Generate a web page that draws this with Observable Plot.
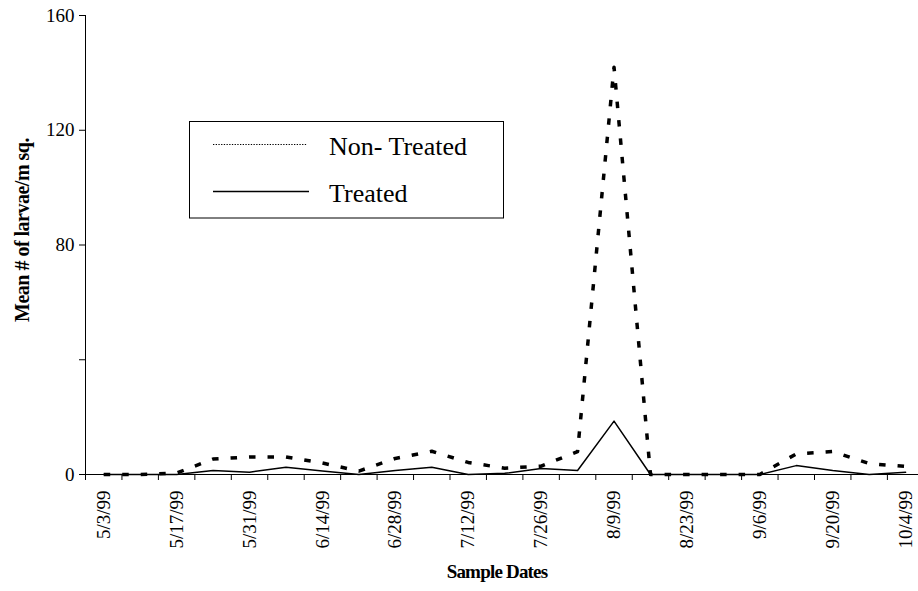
<!DOCTYPE html>
<html>
<head>
<meta charset="utf-8">
<script src="https://cdn.jsdelivr.net/npm/d3@7"></script>
<script src="https://cdn.jsdelivr.net/npm/@observablehq/plot@0.6"></script>
<style>
  html, body { margin: 0; padding: 0; background: #fff; }
  #chart svg { display: block; }
</style>
</head>
<body>
<div id="chart"></div>
<script>
// ---- data ----
const dates = ["5/3/99","5/10/99","5/17/99","5/24/99","5/31/99","6/7/99","6/14/99","6/21/99",
  "6/28/99","7/5/99","7/12/99","7/19/99","7/26/99","8/2/99","8/9/99","8/16/99","8/23/99",
  "8/30/99","9/6/99","9/13/99","9/20/99","9/27/99","10/4/99"];
const nonTreated = [0, 0, 0.5, 5.4, 6.1, 6.1, 4.0, 1.2, 5.6, 8.1, 4.2, 2.2, 2.9, 8, 142, 0, 0, 0, 0, 7.2, 8.0, 3.8, 2.8];
const treated    = [0, 0, 0, 1.4, 0.8, 2.5, 1.2, 0, 1.4, 2.5, 0, 0.4, 2.1, 1.4, 18.6, 0, 0, 0, 0, 3.1, 1.4, 0, 0.8];
const seriesNames = ["Non- Treated", "Treated"];
const yTicks = [0, 40, 80, 120, 160];
const yTickLabels = ["0", "", "80", "120", "160"];
const labelEvery = 2;
const yTitle = "Mean # of larvae/m sq.";
const xTitle = "Sample Dates";

// ---- table ----
const rows = dates.flatMap((d, i) => [
  {i, date: d, series: seriesNames[0], value: nonTreated[i]},
  {i, date: d, series: seriesNames[1], value: treated[i]}
]);
const n = dates.length;
const edgeTicks = d3.range(-0.5, n + 0.5, 1);
const labelIdx = d3.range(0, n, labelEvery);

const font = "Liberation Serif, Times New Roman, serif";

const chart = Plot.plot({
  width: 918,
  height: 591,
  marginLeft: 85,
  marginTop: 15,
  marginBottom: 117,
  marginRight: 0,
  style: {fontFamily: font, fontSize: "19px", color: "#000", background: "#fff", overflow: "hidden"},
  x: {type: "linear", domain: [-0.5, n - 0.5], range: [85, 85 + n * 36.45]},
  y: {domain: [0, 160], range: [474, 15]},
  marks: [
    Plot.ruleY([0], {stroke: "#000", strokeWidth: 1}),
    Plot.ruleX([-0.5], {y1: 0, y2: 160, stroke: "#000", strokeWidth: 1}),
    Plot.axisY({ticks: yTicks, tickFormat: v => yTickLabels[yTicks.indexOf(v)], tickSize: 6, tickPadding: 5, label: null, fontSize: 19}),
    Plot.axisX({ticks: edgeTicks, tickFormat: () => "", tickSize: 6, label: null}),
    Plot.axisX({ticks: labelIdx, tickFormat: i => dates[i], tickSize: 0, tickPadding: 16, tickRotate: -90, label: null, fontSize: 19}),
    Plot.line(rows, {filter: d => d.series === seriesNames[1], x: "i", y: "value", stroke: "#000", strokeWidth: 1.5}),
    Plot.line(rows, {filter: d => d.series === seriesNames[0], x: "i", y: "value", stroke: "#000", strokeWidth: 3.5, strokeDasharray: "6.5,12", strokeLinecap: "butt"})
  ]
});

document.getElementById("chart").appendChild(chart);

// ---- titles & legend ----
const svg = d3.select(chart);
svg.append("text")
  .attr("transform", "translate(22,230) rotate(-90)")
  .attr("text-anchor", "middle")
  .attr("dominant-baseline", "central")
  .attr("font-family", font).attr("font-weight", "bold").attr("font-size", 20)
  .attr("letter-spacing", "-0.5")
  .text(yTitle);
svg.append("text")
  .attr("x", 497).attr("y", 578)
  .attr("text-anchor", "middle")
  .attr("font-family", font).attr("font-weight", "bold").attr("font-size", 19)
  .attr("letter-spacing", "-0.8")
  .text(xTitle);

const lg = svg.append("g");
lg.append("rect").attr("x", 189.5).attr("y", 121.5).attr("width", 314).attr("height", 96.5)
  .attr("fill", "#fff").attr("stroke", "#000").attr("stroke-width", 1);
lg.append("line").attr("x1", 213).attr("x2", 307).attr("y1", 144.5).attr("y2", 144.5)
  .attr("stroke", "#000").attr("stroke-width", 1.2).attr("stroke-dasharray", "1.3,1.4");
lg.append("line").attr("x1", 213).attr("x2", 309).attr("y1", 191.5).attr("y2", 191.5)
  .attr("stroke", "#000").attr("stroke-width", 1.3);
lg.append("text").attr("x", 329).attr("y", 155).attr("text-anchor", "start")
  .attr("font-family", font).attr("font-size", 26).text(seriesNames[0]);
lg.append("text").attr("x", 329).attr("y", 201.5).attr("text-anchor", "start")
  .attr("font-family", font).attr("font-size", 26).text(seriesNames[1]);
</script>
</body>
</html>
